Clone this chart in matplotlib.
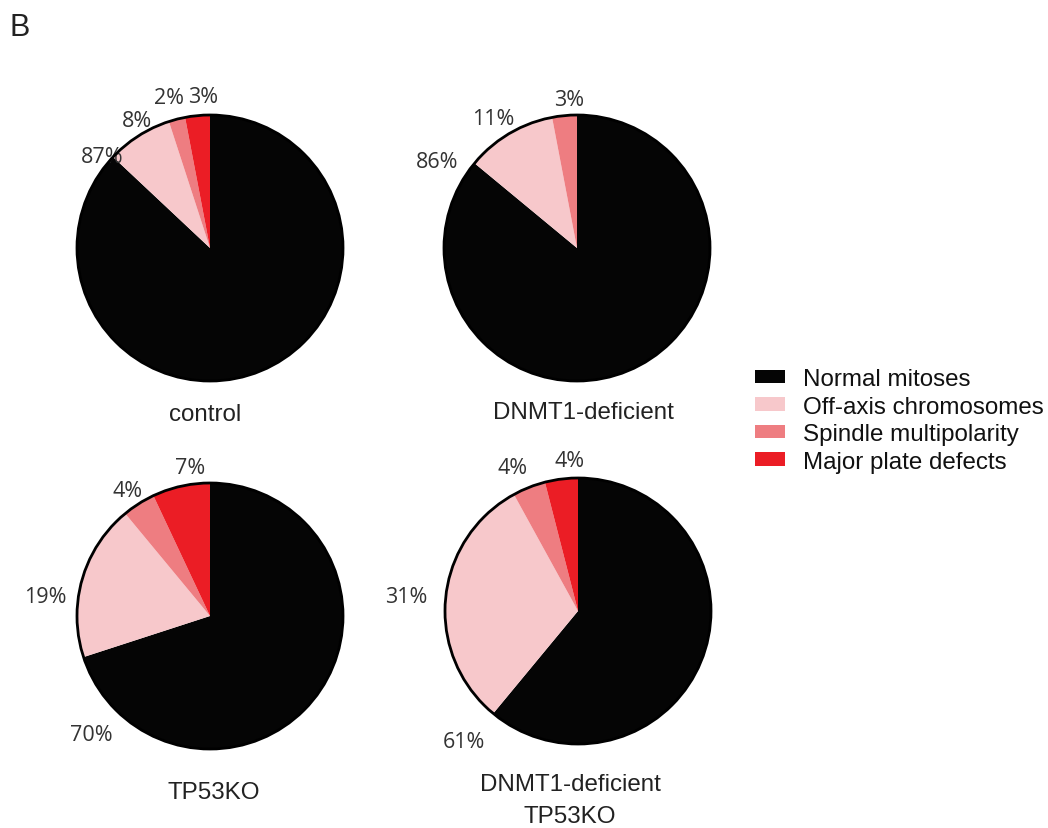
import matplotlib
matplotlib.use("Agg")
import matplotlib.pyplot as plt
from matplotlib.patches import Circle, Patch

# Mitotic phenotype categories and their colours
categories = ["Normal mitoses", "Off-axis chromosomes", "Spindle multipolarity", "Major plate defects"]
colors = ["#050505", "#F7C8CB", "#EE7D81", "#EB1D25"]

# Percentages per condition (same order as categories)
conditions = ["control", "DNMT1-deficient", "TP53KO", "DNMT1-deficient\nTP53KO"]
control = [87, 8, 2, 3]
dnmt1_deficient = [86, 11, 3, 0]
tp53ko = [70, 19, 4, 7]
dnmt1_tp53ko = [61, 31, 4, 4]
values = [control, dnmt1_deficient, tp53ko, dnmt1_tp53ko]

# Layout: pie centres in pixels, label positions in radius units
W, H = 1048, 829
R = 133.0
centres = [(210, 249), (577, 249), (210, 617), (578, 612)]
label_pos = [
    [(-0.81, 0.69), (-0.55, 0.96), (-0.31, 1.13), (-0.05, 1.14)],
    [(-1.05, 0.65), (-0.63, 0.97), (-0.06, 1.12), None],
    [(-0.89, -0.89), (-1.24, 0.15), (-0.62, 0.94), (-0.15, 1.12)],
    [(-0.86, -0.98), (-1.29, 0.11), (-0.49, 1.08), (-0.06, 1.13)],
]
title_pos = [(-0.04, -1.25), (0.05, -1.23), (0.03, -1.32), (-0.06, -1.42)]

pct_font = ["Open Sans", "DejaVu Sans"]
txt_font = ["Liberation Sans", "DejaVu Sans"]

fig = plt.figure(figsize=(W / 100, H / 100), dpi=100)
fig.patch.set_facecolor("white")

lim = 1.6
size = 2 * lim * R
for vals, (cx, cy), lpos, cond, tpos in zip(values, centres, label_pos, conditions, title_pos):
    ax = fig.add_axes([(cx - size / 2) / W, (H - cy - size / 2) / H, size / W, size / H])
    ax.pie(vals, colors=colors, startangle=90, counterclock=False, radius=1.0,
           wedgeprops=dict(linewidth=0), frame=True)
    ax.set_xlim(-lim, lim)
    ax.set_ylim(-lim, lim)
    ax.set_aspect("equal")
    ax.axis("off")
    ax.add_patch(Circle((0, 0), 1.0, fill=False, edgecolor="black", linewidth=2.0, zorder=5))
    for v, p in zip(vals, lpos):
        if v > 0 and p is not None:
            ax.text(p[0], p[1], f"{v}%", ha="center", va="center", fontsize=15.5,
                    color="#333333", family=pct_font)
    ax.text(tpos[0], tpos[1], cond, ha="center", va="center", fontsize=17.4,
            color="#222222", family=txt_font, linespacing=1.6)

handles = [Patch(facecolor=c, edgecolor="none") for c in colors]
fig.legend(handles, categories, loc="upper left", bbox_to_anchor=(755 / W, 1 - 369 / H),
           frameon=False, prop=dict(family=txt_font, size=17.4), handlelength=1.24,
           handleheight=0.5, handletextpad=0.74, labelspacing=0.23, borderaxespad=0,
           borderpad=0, labelcolor="#111111")

fig.text(10 / W, 1 - 28 / H, "B", fontsize=22, family=txt_font, color="#222222",
         ha="left", va="center")

fig.savefig("out.png", dpi=100, facecolor="white")
